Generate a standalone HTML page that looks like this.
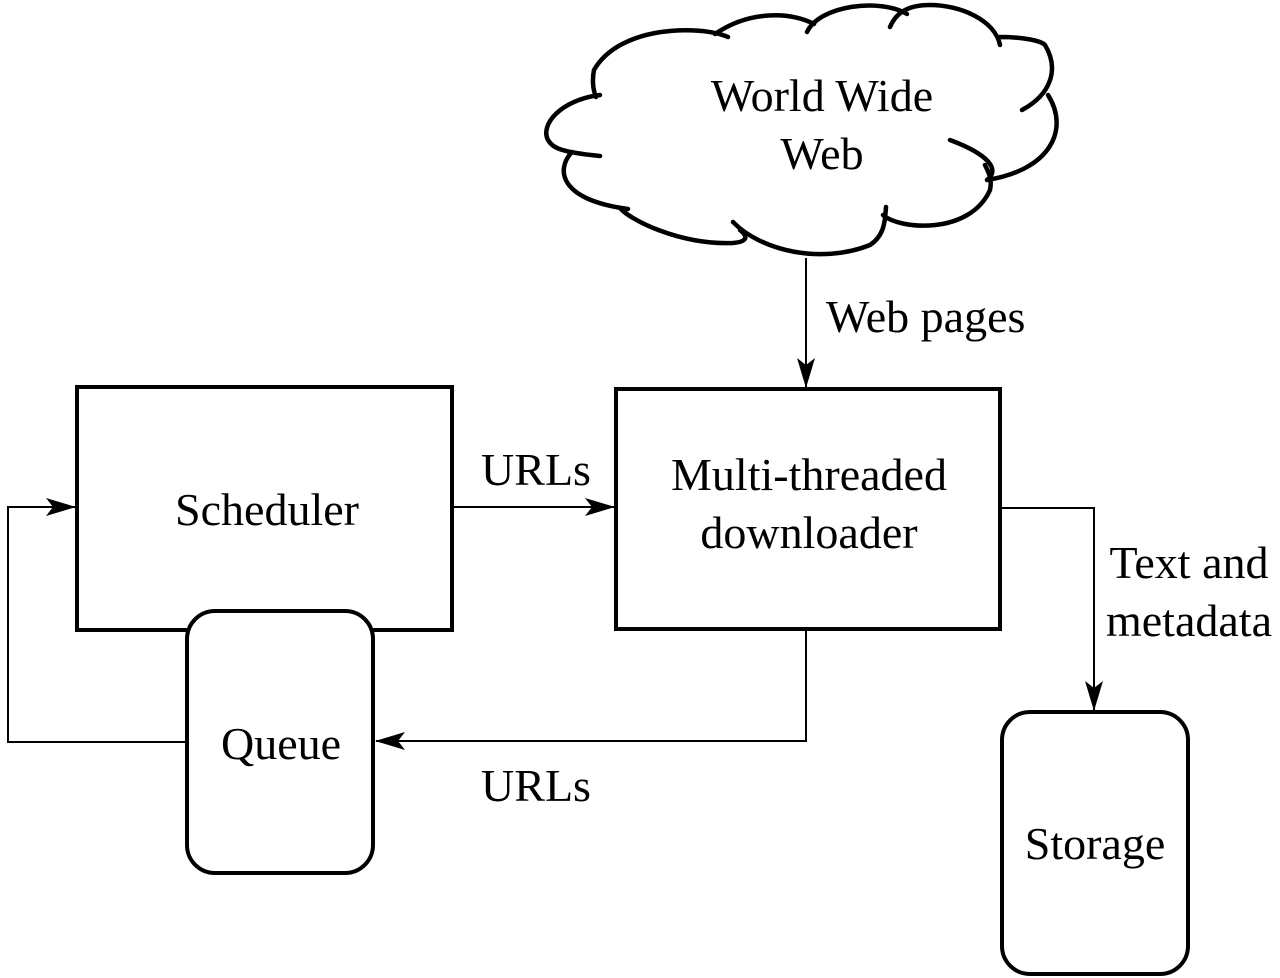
<!DOCTYPE html>
<html><head><meta charset="utf-8"><style>
html,body{margin:0;padding:0;background:#fff;}
svg{display:block;}
text{font-family:"Liberation Serif",serif;font-size:46px;fill:#000;}
</style></head><body>
<svg width="1280" height="978" viewBox="0 0 1280 978" xmlns="http://www.w3.org/2000/svg">
<defs>
<marker id="ah" viewBox="0 0 30 18" refX="29" refY="9" markerWidth="30" markerHeight="18" markerUnits="userSpaceOnUse" orient="auto">
<path d="M0,0 L30,9 L0,18 L7,9 Z" fill="#000"/>
</marker>
</defs>
<g fill="none" stroke="#000" stroke-width="4.5" stroke-linecap="round">
<path d="M600,95 C560,100 540,125 548,140 C553,148 560,152 600,156
 M572,152 C555,170 560,200 628,209
 M620,208 C630,220 680,245 733,243 C745,242 750,238 740,230
 M733,222 C760,250 820,265 870,245 C885,235 885,220 886,207
 M883,215 C900,230 970,235 990,190 C992,180 990,175 985,165
 M950,140 C990,155 1000,170 987,180
 M987,180 C1050,170 1070,130 1048,95
 M1022,110 C1050,95 1060,70 1045,45 C1040,40 1020,37 1000,37
 M1000,45 C995,20 960,5 930,5 C905,5 895,15 890,27
 M907,14 C880,-2 820,5 807,32
 M814,24 C790,12 750,10 715,34
 M728,37 C700,25 620,25 594,70 C592,80 593,90 596,97"/>
</g>
<rect x="77" y="387" width="375" height="243" fill="#fff" stroke="#000" stroke-width="4"/>
<rect x="616" y="389" width="384" height="240" fill="#fff" stroke="#000" stroke-width="4"/>
<g fill="none" stroke="#000" stroke-width="2">
<line x1="806" y1="258" x2="806" y2="387" marker-end="url(#ah)"/>
<line x1="454" y1="507" x2="614" y2="507" marker-end="url(#ah)"/>
<polyline points="1002,508 1094,508 1094,710" marker-end="url(#ah)"/>
<polyline points="806,630 806,741 376,741" marker-end="url(#ah)"/>
<polyline points="186,742 8,742 8,507 75,507" marker-end="url(#ah)"/>
</g>
<rect x="187" y="611" width="186" height="262" rx="28" fill="#fff" stroke="#000" stroke-width="4"/>
<rect x="1002" y="712" width="186" height="262" rx="28" fill="#fff" stroke="#000" stroke-width="4"/>
<text x="822" y="111" text-anchor="middle">World Wide</text>
<text x="822" y="169" text-anchor="middle">Web</text>
<text x="826" y="332">Web pages</text>
<text x="267" y="525" text-anchor="middle">Scheduler</text>
<text x="536" y="485" text-anchor="middle">URLs</text>
<text x="809" y="490" text-anchor="middle">Multi-threaded</text>
<text x="809" y="548" text-anchor="middle">downloader</text>
<text x="1189" y="578" text-anchor="middle">Text and</text>
<text x="1189" y="636" text-anchor="middle">metadata</text>
<text x="281" y="759" text-anchor="middle">Queue</text>
<text x="536" y="801" text-anchor="middle">URLs</text>
<text x="1095" y="859" text-anchor="middle">Storage</text>
</svg>
</body></html>
